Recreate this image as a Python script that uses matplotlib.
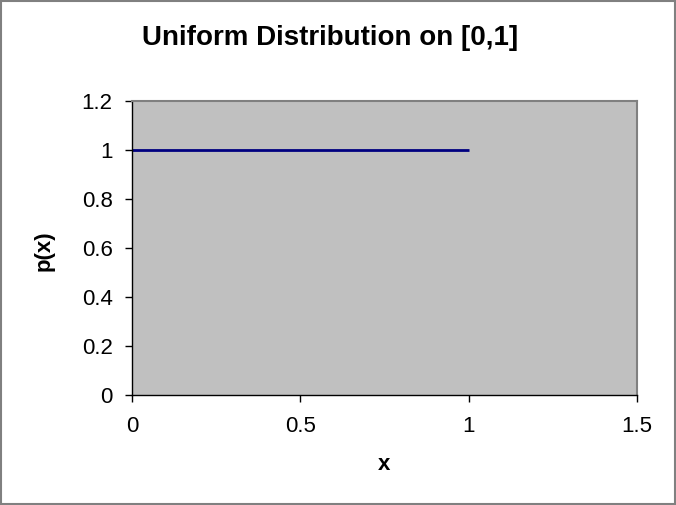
import matplotlib
matplotlib.use("Agg")
import matplotlib.pyplot as plt
from matplotlib.patches import Rectangle

plt.rcParams['font.family'] = ['Liberation Sans', 'DejaVu Sans']

# Uniform density on [0,1]
x_vals = [0, 1]
p_vals = [1, 1]
x_ticks = [0, 0.5, 1, 1.5]
y_ticks = [0, 0.2, 0.4, 0.6, 0.8, 1, 1.2]
x_tick_labels = ["0", "0.5", "1", "1.5"]
y_tick_labels = ["0", "0.2", "0.4", "0.6", "0.8", "1", "1.2"]

fig = plt.figure(figsize=(6.76, 5.05), dpi=100)
fig.patch.set_facecolor("white")
fig.patches.append(Rectangle((0.002, 0.002), 0.996, 0.996, transform=fig.transFigure,
                             fill=False, edgecolor="#808080", linewidth=1.5))

ax = fig.add_axes([0.1953, 0.2178, 0.747, 0.5822])
ax.set_facecolor("#c0c0c0")
ax.plot(x_vals, p_vals, color="#000080", linewidth=2, solid_capstyle="butt")

ax.set_xlim(0, 1.5)
ax.set_ylim(0, 1.2)
ax.set_xticks(x_ticks)
ax.set_xticklabels(x_tick_labels)
ax.set_yticks(y_ticks)
ax.set_yticklabels(y_tick_labels)
ax.tick_params(direction="out", length=5, width=1, labelsize=16, colors="black")
ax.tick_params(axis="y", pad=9)
ax.tick_params(axis="x", pad=10)

for side in ("left", "bottom"):
    ax.spines[side].set_color("black")
    ax.spines[side].set_linewidth(1)
for side in ("top", "right"):
    ax.spines[side].set_color("#808080")
    ax.spines[side].set_linewidth(1.5)

ax.set_xlabel("x", fontsize=16, fontweight="bold")
ax.set_ylabel("p(x)", fontsize=16, fontweight="bold")
ax.xaxis.set_label_coords(0.5, -0.238)
ax.yaxis.set_label_coords(-0.175, 0.49)
ax.xaxis.label.set_va("center")
ax.yaxis.label.set_va("center")
fig.text(330 / 676, 1 - 38 / 505, "Uniform Distribution on [0,1]", ha="center", va="center",
         fontsize=20, fontweight="bold")

fig.savefig("out.png", dpi=100)
